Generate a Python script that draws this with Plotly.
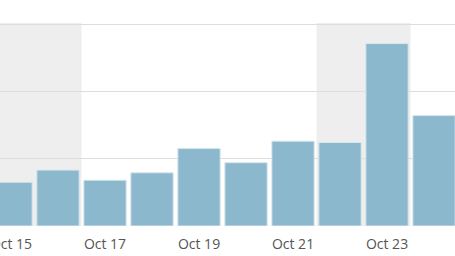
import plotly.graph_objects as go

dates = ["2016-10-15", "2016-10-16", "2016-10-17", "2016-10-18", "2016-10-19",
         "2016-10-20", "2016-10-21", "2016-10-22", "2016-10-23", "2016-10-24"]
values = [6.5, 8.3, 6.8, 7.9, 11.5, 9.4, 12.6, 12.4, 27.1, 16.4]
weekends = [("2016-10-13 12:00", "2016-10-16 12:00"), ("2016-10-21 12:00", "2016-10-23 12:00")]

fig = go.Figure(go.Bar(
    x=dates, y=values,
    marker=dict(color="#8bb8cc", line=dict(color="#d6e6ed", width=1)),
    hoverinfo="skip",
))

for x0, x1 in weekends:
    fig.add_shape(type="rect", xref="x", yref="paper", x0=x0, x1=x1, y0=0, y1=1,
                  fillcolor="#eeeeee", line_width=0, layer="below")

fig.update_layout(
    width=455, height=256,
    margin=dict(l=0, r=0, t=23, b=30, autoexpand=False),
    paper_bgcolor="white", plot_bgcolor="white",
    bargap=0.1,
    showlegend=False,
    font=dict(family="Open Sans", size=14, color="#555555"),
    xaxis=dict(
        type="date",
        range=["2016-10-14 18:23", "2016-10-24 10:43"],
        tick0="2016-10-15", dtick=2 * 86400000, tickformat="%b %d",
        showgrid=False, zeroline=False, showline=False, ticks="",
        ticklabelstandoff=8, ticklabeloverflow="allow", automargin=False,
    ),
    yaxis=dict(
        range=[0, 30.15], dtick=10, showticklabels=False,
        gridcolor="#dddddd", gridwidth=1, zeroline=False, showline=False,
        automargin=False,
    ),
)

fig.write_html("out.html")
